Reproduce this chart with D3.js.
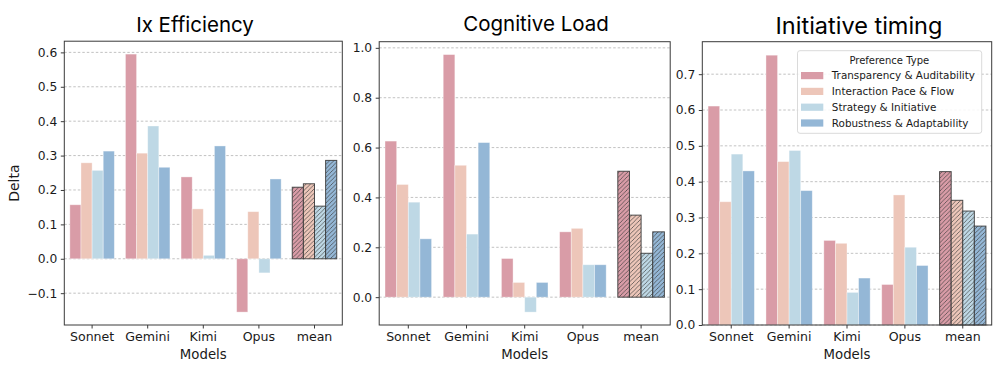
<!DOCTYPE html>
<html>
<head>
<meta charset="utf-8">
<script src="https://cdn.jsdelivr.net/npm/d3@7"></script>
<style>
  html, body { margin: 0; padding: 0; background: #ffffff; }
  svg { display: block; }
</style>
</head>
<body>
<svg id="chart" width="996" height="369"></svg>
<script>
// ---------------- data ----------------
const models = ["Sonnet", "Gemini", "Kimi", "Opus", "mean"];
const prefTypes = ["Transparency & Auditability", "Interaction Pace & Flow", "Strategy & Initiative", "Robustness & Adaptability"];
const prefColors = ["#d99ca7", "#edc6b9", "#bed8e5", "#94b7d6"];

// Ix Efficiency
const effTransparency = [0.157, 0.595, 0.238, -0.155, 0.208];
const effPace         = [0.279, 0.307, 0.145, 0.137, 0.218];
const effStrategy     = [0.257, 0.386, 0.010, -0.041, 0.153];
const effRobust       = [0.313, 0.266, 0.328, 0.232, 0.286];
const effTicks = [-0.1, 0.0, 0.1, 0.2, 0.3, 0.4, 0.5, 0.6];

// Cognitive Load
const cogTransparency = [0.626, 0.973, 0.155, 0.262, 0.505];
const cogPace         = [0.452, 0.529, 0.059, 0.276, 0.329];
const cogStrategy     = [0.381, 0.253, -0.060, 0.130, 0.176];
const cogRobust       = [0.234, 0.620, 0.059, 0.130, 0.262];
const cogTicks = [0.0, 0.2, 0.4, 0.6, 0.8, 1.0];

// Initiative timing
const initTransparency = [0.611, 0.753, 0.236, 0.113, 0.428];
const initPace         = [0.344, 0.456, 0.228, 0.363, 0.348];
const initStrategy     = [0.477, 0.487, 0.091, 0.217, 0.318];
const initRobust       = [0.430, 0.375, 0.131, 0.166, 0.276];
const initTicks = [0.0, 0.1, 0.2, 0.3, 0.4, 0.5, 0.6, 0.7];

const titles = ["Ix Efficiency", "Cognitive Load", "Initiative timing"];

// ---------------- layout ----------------
const panels = [
  { title: titles[0], series: [effTransparency, effPace, effStrategy, effRobust], ticks: effTicks,
    box: { l: 64.3, r: 342.3, t: 41.2, b: 325 }, titleX: 195, titleY: 31.7, titleSize: 20.5, ylabel: true, legend: false },
  { title: titles[1], series: [cogTransparency, cogPace, cogStrategy, cogRobust], ticks: cogTicks,
    box: { l: 379.2, r: 670.2, t: 41.7, b: 325 }, titleX: 536, titleY: 30.8, titleSize: 20.5, ylabel: false, legend: false },
  { title: titles[2], series: [initTransparency, initPace, initStrategy, initRobust], ticks: initTicks,
    box: { l: 702.3, r: 991.7, t: 41.7, b: 325 }, titleX: 859, titleY: 34.4, titleSize: 23.5, ylabel: false, legend: true }
];

const svg = d3.select("#chart");
const defs = svg.append("defs");
const axisFont = "'DejaVu Sans', sans-serif";
const titleFont = "Inter, Roboto, sans-serif";
const spineColor = "#3a3a3a";

// hatch patterns for mean bars
const hs = 4.3;
prefColors.forEach((c, i) => {
  const p = defs.append("pattern")
    .attr("id", "hatch" + i)
    .attr("patternUnits", "userSpaceOnUse")
    .attr("width", hs).attr("height", hs);
  p.append("rect").attr("width", hs).attr("height", hs).attr("fill", c);
  p.append("path")
    .attr("d", `M-1,1 L1,-1 M0,${hs} L${hs},0 M${hs - 1},${hs + 1} L${hs + 1},${hs - 1}`)
    .attr("stroke", "#3c3c3c").attr("stroke-width", 0.85).attr("stroke-opacity", 0.8);
});

panels.forEach((P, pi) => {
  const B = P.box;
  const all = P.series.flat();
  const dMin = Math.min(0, d3.min(all)), dMax = Math.max(0, d3.max(all));
  const span = dMax - dMin;
  const lo = dMin < 0 ? dMin - 0.05 * span : 0;
  const hi = dMax + 0.05 * span;

  const y = d3.scaleLinear().domain([lo, hi]).range([B.b, B.t]);
  const x = d3.scaleBand().domain(models).range([B.l, B.r]).paddingInner(0.2).paddingOuter(0.1);
  const xSub = d3.scaleBand().domain(d3.range(prefTypes.length)).range([0, x.bandwidth()]);

  const g = svg.append("g");

  // grid
  g.append("g").selectAll("line").data(P.ticks).join("line")
    .attr("x1", B.l).attr("x2", B.r)
    .attr("y1", d => y(d)).attr("y2", d => y(d))
    .attr("stroke", "#b3b3b3").attr("stroke-width", 0.8)
    .attr("stroke-dasharray", "2.5,2");

  // bars
  P.series.forEach((vals, si) => {
    g.append("g").selectAll("rect").data(vals.map((v, k) => ({ v, m: models[k] }))).join("rect")
      .attr("x", d => x(d.m) + xSub(si))
      .attr("width", xSub.bandwidth())
      .attr("y", d => y(Math.max(0, d.v)))
      .attr("height", d => Math.abs(y(d.v) - y(0)))
      .attr("fill", d => d.m === "mean" ? `url(#hatch${si})` : prefColors[si])
      .attr("stroke", d => d.m === "mean" ? "#3a3a3a" : "#ffffff")
      .attr("stroke-opacity", d => d.m === "mean" ? 0.9 : 0.45)
      .attr("stroke-width", d => d.m === "mean" ? 1 : 0.8);
  });

  // spines
  g.append("rect")
    .attr("x", B.l).attr("y", B.t).attr("width", B.r - B.l).attr("height", B.b - B.t)
    .attr("fill", "none").attr("stroke", spineColor).attr("stroke-width", 1);

  // y axis
  const yAxis = d3.axisLeft(y).tickValues(P.ticks).tickFormat(d3.format(".1f")).tickSize(3.5).tickPadding(3.5);
  const ya = g.append("g").attr("transform", `translate(${B.l},0)`).call(yAxis);
  ya.select(".domain").remove();
  ya.selectAll(".tick line").attr("stroke", spineColor);
  ya.selectAll(".tick text").attr("font-family", axisFont).attr("font-size", 12.3).attr("fill", "#1a1a1a")
    .text(d => d3.format(".1f")(d).replace("-", "\u2212"));

  // x axis
  const xAxis = d3.axisBottom(x).tickSize(3.5).tickPadding(3.5);
  const xa = g.append("g").attr("transform", `translate(0,${B.b})`).call(xAxis);
  xa.select(".domain").remove();
  xa.selectAll(".tick line").attr("stroke", spineColor);
  xa.selectAll(".tick text").attr("font-family", axisFont).attr("font-size", 12.6).attr("fill", "#1a1a1a");

  // x label
  g.append("text").attr("x", (B.l + B.r) / 2).attr("y", 358.5)
    .attr("text-anchor", "middle").attr("font-family", axisFont).attr("font-size", 13.3).attr("fill", "#1a1a1a")
    .text("Models");

  if (P.ylabel) {
    g.append("text")
      .attr("transform", `translate(18.5,${(B.t + B.b) / 2}) rotate(-90)`)
      .attr("text-anchor", "middle").attr("font-family", axisFont).attr("font-size", 14).attr("fill", "#1a1a1a")
      .text("Delta");
  }

  // title
  g.append("text").attr("x", P.titleX).attr("y", P.titleY)
    .attr("text-anchor", "middle").attr("font-family", titleFont).attr("font-size", P.titleSize).attr("fill", "#000")
    .text(P.title);

  if (P.legend) {
    const L = { x: 797.5, y: 50.7, w: 184.2, h: 82.6 };
    const lg = g.append("g");
    lg.append("rect").attr("x", L.x).attr("y", L.y).attr("width", L.w).attr("height", L.h)
      .attr("rx", 2.5).attr("fill", "#ffffff").attr("fill-opacity", 0.85)
      .attr("stroke", "#d6d6d6").attr("stroke-width", 0.9);
    lg.append("text").attr("x", 889.3).attr("y", 63.6)
      .attr("text-anchor", "middle").attr("font-family", axisFont).attr("font-size", 10)
      .attr("fill", "#1a1a1a").text("Preference Type");
    const rowY = d3.scalePoint().domain(d3.range(prefTypes.length)).range([75.6, 123]);
    prefTypes.forEach((t, i) => {
      lg.append("rect").attr("x", 801).attr("y", rowY(i) - 3.6).attr("width", 22.3).attr("height", 7.2)
        .attr("fill", prefColors[i]);
      lg.append("text").attr("x", 831.8).attr("y", rowY(i) + 3.8)
        .attr("font-family", axisFont).attr("font-size", 10.4).attr("fill", "#1a1a1a").text(t);
    });
  }
});
</script>
</body>
</html>
